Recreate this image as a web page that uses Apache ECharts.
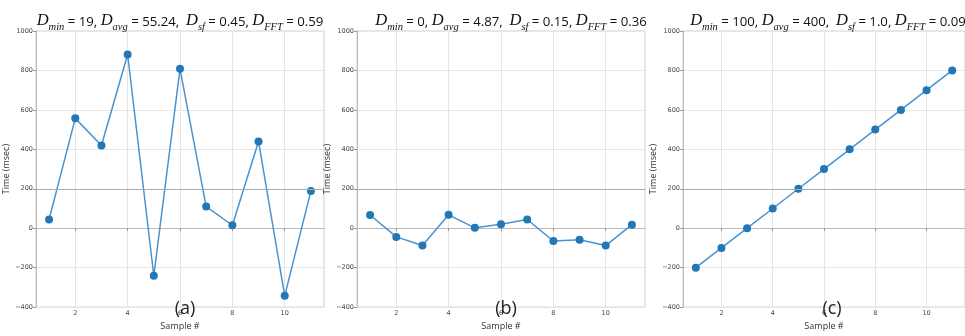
<!DOCTYPE html>
<html>
<head>
<meta charset="utf-8">
<script src="https://cdn.jsdelivr.net/npm/echarts@6/dist/echarts.min.js"></script>
<style>
  html, body { margin: 0; padding: 0; background: #fff; }
  #chart { width: 965px; height: 336px; }
</style>
</head>
<body>
<div id="chart"></div>
<script>
// sample numbers 1..11
const samples = [1, 2, 3, 4, 5, 6, 7, 8, 9, 10, 11];
// (msec)
const timesA = [44, 557, 419, 881, -241, 808, 110, 15, 440, -343, 189];
const timesB = [67, -44, -88, 68, 2, 20, 44, -65, -59, -88, 18];
const timesC = [-200, -100, 0, 100, 200, 300, 400, 500, 600, 700, 800];
const xTicks = [2, 4, 6, 8, 10];
const panelTags = ['(a)', '(b)', '(c)'];
const panelStats = [
  ['19', '55.24', '0.45', '0.59'],
  ['0', '4.87', '0.15', '0.36'],
  ['100', '400', '1.0', '0.09']
];

// plot areas, px
const grids = [
  {left: 36, right: 641, top: 31, bottom: 18},
  {left: 357, right: 320, top: 31, bottom: 18},
  {left: 683, right: -6, top: 31, bottom: 18}
];
const centers = [180, 501, 827];
const titleX = [175, 506, 823];

const series = [timesA, timesB, timesC];

function statText(s) {
  return '{d|D}{s|min}{t| = ' + s[0] + ', }' +
    '{d|D}{s|avg}{t| = ' + s[1] + ',  }' +
    '{d|D}{s|sf}{t| = ' + s[2] + ', }' +
    '{d|D}{s|FFT}{t| = ' + s[3] + '}';
}

const richStyle = {
  d: {fontFamily: 'Liberation Serif', fontStyle: 'italic', fontWeight: 'normal', fontSize: 16.5, color: '#111', lineHeight: 20, verticalAlign: 'bottom'},
  s: {fontFamily: 'Liberation Serif', fontStyle: 'italic', fontWeight: 'normal', fontSize: 10.5, color: '#111', lineHeight: 20, verticalAlign: 'bottom', padding: [0, 0, -4, 0]},
  t: {fontFamily: 'Open Sans', fontWeight: 'normal', fontSize: 13.2, color: '#111', lineHeight: 20, verticalAlign: 'bottom'}
};

const option = {
  animation: false,
  backgroundColor: '#fff',
  title: [],
  grid: grids.map(g => Object.assign({show: true, borderColor: '#cfcfcf', borderWidth: 1}, g)),
  xAxis: [],
  yAxis: [],
  series: []
};

for (let i = 0; i < 3; i++) {
  option.title.push({
    text: statText(panelStats[i]),
    left: titleX[i], top: 4, textAlign: 'center',
    textStyle: {fontWeight: 'normal', rich: richStyle}
  });
  option.title.push({
    text: panelTags[i],
    left: centers[i], top: 295, textAlign: 'center',
    textStyle: {fontFamily: 'Open Sans', fontSize: 18, fontWeight: 'normal', color: '#222'}
  });
  option.xAxis.push({
    gridIndex: i, type: 'value', min: 0.5, max: 11.5,
    name: 'Sample #', nameLocation: 'middle', nameGap: 7,
    nameTextStyle: {fontFamily: 'Open Sans', fontSize: 9, color: '#333'},
    axisLine: {lineStyle: {color: '#bbb'}},
    axisTick: {show: true, length: 3, customValues: xTicks, lineStyle: {color: '#999'}},
    axisLabel: {customValues: xTicks, fontSize: 6.5, color: '#444', margin: 3, fontFamily: 'DejaVu Sans'},
    splitLine: {show: true, lineStyle: {color: '#e6e6e6'}}
  });
  option.yAxis.push({
    gridIndex: i, type: 'value', min: -400, max: 1000, interval: 200,
    name: 'Time (msec)', nameLocation: 'middle', nameGap: 23,
    nameTextStyle: {fontFamily: 'Open Sans', fontSize: 9, color: '#333'},
    axisLine: {show: true, lineStyle: {color: '#bbb'}},
    axisTick: {show: true, length: 3, lineStyle: {color: '#999'}},
    axisLabel: {fontSize: 6.5, color: '#444', margin: 3, fontFamily: 'DejaVu Sans',
      formatter: v => String(v).replace('-', '\u2212')},
    splitLine: {show: true, lineStyle: {color: '#e6e6e6'}}
  });
  option.series.push({
    type: 'line', xAxisIndex: i, yAxisIndex: i,
    data: samples.map((s, k) => [s, series[i][k]]),
    symbol: 'circle', symbolSize: 8,
    lineStyle: {color: '#4a93cf', width: 1.5},
    itemStyle: {color: '#2277b6'},
    markLine: {
      silent: true, symbol: 'none', label: {show: false},
      lineStyle: {color: '#ababab', type: 'solid', width: 1},
      data: [{yAxis: 200}]
    }
  });
}

const chart = echarts.init(document.getElementById('chart'));
chart.setOption(option);
</script>
</body>
</html>
